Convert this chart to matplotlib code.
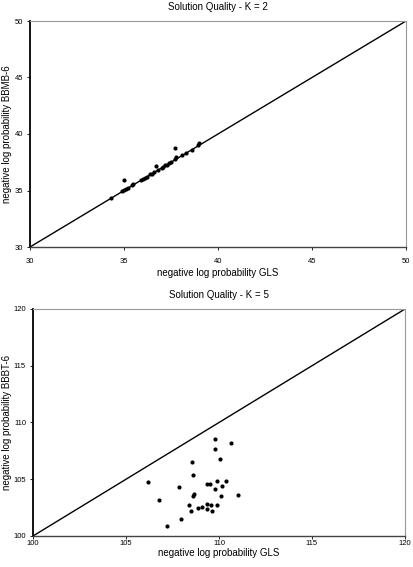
import matplotlib
matplotlib.use('Agg')
import matplotlib.pyplot as plt
from matplotlib import rc

rc("font", family=["Liberation Sans", "DejaVu Sans"], size=7)

# K = 2 : GLS vs BBMB-6
gls_k2 = [34.3, 34.9, 35.0, 35.1, 35.2, 35.4, 35.5, 35.9, 36.0, 36.1, 36.2,
          36.4, 36.5, 36.6, 36.8, 37.0, 37.1, 37.2, 37.3, 37.4, 37.5, 37.7,
          37.75, 38.1, 38.3, 38.6, 38.95, 39.0, 35.0, 36.7, 37.7]
bbmb_k2 = [34.35, 34.95, 35.05, 35.1, 35.2, 35.45, 35.55, 35.95, 36.0, 36.1, 36.2,
           36.45, 36.5, 36.6, 36.85, 37.0, 37.1, 37.25, 37.3, 37.45, 37.5, 37.75,
           38.0, 38.15, 38.3, 38.6, 39.0, 39.2, 35.95, 37.2, 38.75]

# K = 5 : GLS vs BBBT-6
gls_k5 = [106.2, 106.77, 107.19, 107.87, 107.96, 108.53, 108.62, 108.67, 108.62,
          108.41, 108.48, 108.89, 109.07, 109.34, 109.34, 109.57, 109.61, 109.87,
          109.37, 109.52, 109.78, 109.78, 110.63, 110.05, 109.91, 109.8, 110.16,
          110.38, 110.12, 111.02]
bbbt_k5 = [104.73, 103.14, 100.91, 104.32, 101.53, 106.49, 105.4, 103.73, 103.5,
           102.7, 102.2, 102.47, 102.56, 102.82, 102.35, 102.73, 102.17, 102.7,
           104.58, 104.58, 108.55, 107.7, 108.22, 106.78, 104.82, 104.14, 104.37,
           104.85, 103.52, 103.61]

# (title, x, y, limits, ticks, ylabel, axes rect [px: left, top, right, bottom],
#  xlabel y px, x tick label pad)
panels = [
    ("Solution Quality - K = 2", gls_k2, bbmb_k2, (30, 50), [30, 35, 40, 45, 50],
     "negative log probability BBMB-6", (30, 21, 406, 247), 273, 6),
    ("Solution Quality - K = 5", gls_k5, bbbt_k5, (100, 120), [100, 105, 110, 115, 120],
     "negative log probability BBBT-6", (33, 309, 405, 536), 553, 1),
]

W, H = 413, 567
fig = plt.figure(figsize=(W / 100, H / 100), dpi=100)

for title, xs, ys, lim, ticks, ylab, (l, t, r, b), xlab_y, xpad in panels:
    aw, ah = r - l, b - t
    ax = fig.add_axes([l / W, 1 - b / H, aw / W, ah / H])
    ax.plot(lim, lim, color="black", lw=1.0, zorder=2)
    ax.scatter(xs, ys, s=9, color="black", zorder=3, linewidths=0)
    ax.set_xlim(lim)
    ax.set_ylim(lim)
    ax.set_xticks(ticks)
    ax.set_yticks(ticks)
    ax.tick_params(labelsize=5.5, length=2, width=0.6, pad=3)
    ax.tick_params(axis="x", pad=xpad)
    for side in ("top", "right"):
        ax.spines[side].set_linestyle((0, (1, 1)))
        ax.spines[side].set_color("#999999")
        ax.spines[side].set_linewidth(0.8)
    ax.spines["left"].set_linewidth(1.3)
    ax.spines["bottom"].set_linewidth(1.0)
    ax.spines["bottom"].set_color("#444444")

    ax.text(0.5, 1 + 14 / ah, title, transform=ax.transAxes,
            ha="center", va="center", fontsize=7)
    ax.set_xlabel("negative log probability GLS", fontsize=7)
    ax.xaxis.set_label_coords(0.5, (b - xlab_y) / ah)
    ax.set_ylabel(ylab, fontsize=7)
    ax.yaxis.set_label_coords((7 - l) / aw, 0.5)
    ax.yaxis.label.set_va("center")
    ax.xaxis.label.set_va("center")

fig.savefig("out.png", dpi=100)
